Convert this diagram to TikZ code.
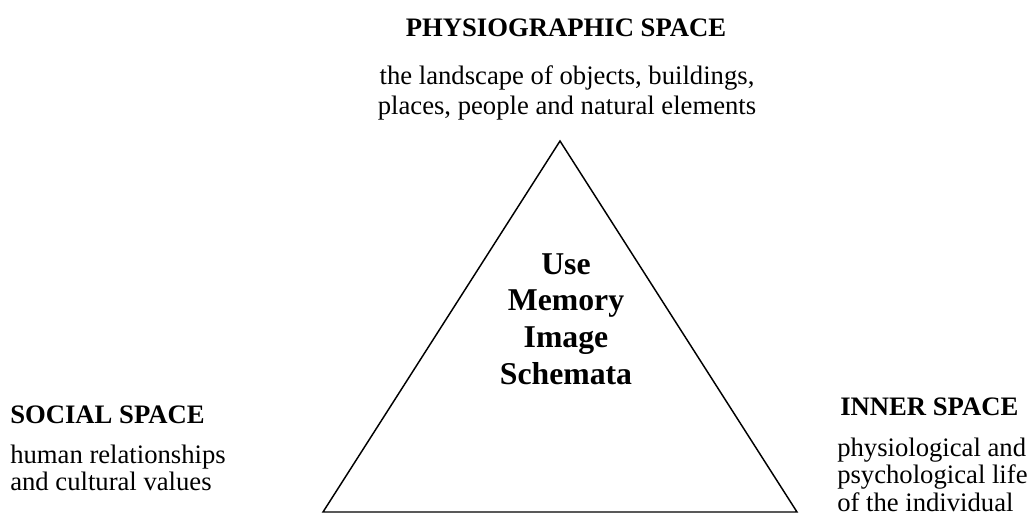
\documentclass[tikz,border=0pt]{standalone}
\usepackage{fontspec}
\setmainfont{Liberation Serif}
\usetikzlibrary{calc}

\begin{document}
\begin{tikzpicture}[
    x=0.75pt, y=-0.75pt,
    % text styles of the three spaces
    head/.style={font=\fontsize{20}{22}\selectfont\bfseries, inner sep=0pt},
    body/.style={font=\fontsize{20}{22}\selectfont, inner sep=0pt},
    core/.style={font=\fontsize{23.8}{27}\selectfont\bfseries, inner sep=0pt},
    tri/.style={line width=1.1pt, line join=miter}
]
    \useasboundingbox (0,0) rectangle (1030,526);

    % --- Triangle ---
    \coordinate (tri_top) at (560,141);
    \coordinate (tri_l) at (323,512);
    \coordinate (tri_r) at (797,512);
    \draw[tri] (tri_top) -- (tri_l) -- (tri_r) -- cycle;

    % --- Centre words ---
    \foreach \w [count=\k] in {Use, Memory, Image, Schemata} {
        \node[core, anchor=base] (core_\k) at ($(566,274) + (0,36.7*\k-36.7)$) {\w};
    }

    % --- Top: physiographic space ---
    \node[head, anchor=base] (phys) at (566,36.5) {PHYSIOGRAPHIC SPACE};
    \foreach \w [count=\k] in {{the landscape of objects, buildings,}, {places, people and natural elements}} {
        \node[body, anchor=base] (phys_\k) at ($(567,84) + (0,30*\k-30)$) {\w};
    }

    % --- Left: social space ---
    \node[head, anchor=base west] (social) at (10,423) {SOCIAL SPACE};
    \foreach \w [count=\k] in {human relationships, and cultural values} {
        \node[body, anchor=base west] (social_\k) at ($(10,463) + (0,27.5*\k-27.5)$) {\w};
    }

    % --- Right: inner space ---
    \node[head, anchor=base west] (inner) at (840,415) {INNER SPACE};
    \foreach \w [count=\k] in {physiological and, psychological life, of the individual} {
        \node[body, anchor=base west] (inner_\k) at ($(837,456) + (0,27.7*\k-27.7)$) {\w};
    }

\end{tikzpicture}
\end{document}
